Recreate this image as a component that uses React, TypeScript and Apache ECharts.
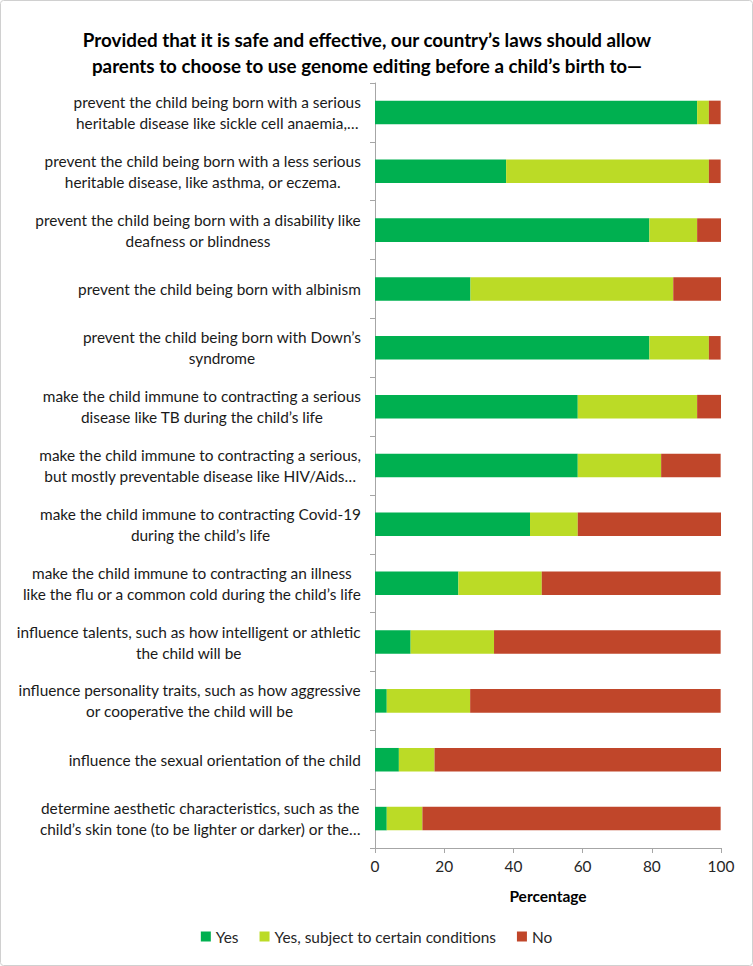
import React, { useEffect, useRef } from "react";
import * as echarts from "echarts";

const categories = [
  "prevent the child being born with a serious\nheritable disease like sickle cell anaemia,…",
  "prevent the child being born with a less serious\nheritable disease, like asthma, or eczema.",
  "prevent the child being born with a disability like\ndeafness or blindness",
  "prevent the child being born with albinism",
  "prevent the child being born with Down’s\nsyndrome",
  "make the child immune to contracting a serious\ndisease like TB during the child’s life",
  "make the child immune to contracting a serious,\nbut mostly preventable disease like HIV/Aids…",
  "make the child immune to contracting Covid-19\nduring the child’s life",
  "make the child immune to contracting an illness\nlike the flu or a common cold during the child’s life",
  "influence talents, such as how intelligent or athletic\nthe child will be",
  "influence personality traits, such as how aggressive\nor cooperative the child will be",
  "influence the sexual orientation of the child",
  "determine aesthetic characteristics, such as the\nchild’s skin tone (to be lighter or darker) or the…",
];

const yesValues = [93.1, 37.9, 79.3, 27.6, 79.3, 58.6, 58.6, 44.8, 24.1, 10.3, 3.4, 6.9, 3.4];
const conditionalValues = [3.4, 58.6, 13.8, 58.6, 17.2, 34.5, 24.1, 13.8, 24.1, 24.1, 24.1, 10.3, 10.3];
const noValues = [3.4, 3.4, 6.9, 13.8, 3.4, 6.9, 17.2, 41.4, 51.7, 65.5, 72.4, 82.8, 86.2];

const seriesNames = ["Yes", "Yes, subject to certain conditions", "No"];
const seriesColors = ["#00b050", "#bbdb26", "#c0462a"];

const titleLines = [
  "Provided that it is safe and effective, our country’s laws should allow",
  "parents to choose to use genome editing before a child’s birth to—",
];

const FONT = "Lato, 'Open Sans', sans-serif";

export default function App() {
  const ref = useRef<HTMLDivElement>(null);

  useEffect(() => {
    document.body.style.margin = "0";
    if (!ref.current) return;
    const chart = echarts.init(ref.current, undefined, { renderer: "svg" });
    const dataSets = [yesValues, conditionalValues, noValues];
    chart.setOption({
      animation: false,
      backgroundColor: "#ffffff",
      textStyle: { fontFamily: FONT },
      graphic: [
        {
          type: "rect",
          shape: { x: 0.5, y: 0.5, width: 752, height: 965, r: 3 },
          style: { fill: "none", stroke: "#d0d0d0", lineWidth: 1 },
        },
        {
          type: "text",
          x: 367,
          y: 26,
          style: {
            text: titleLines.join("\n"),
            fontFamily: FONT,
            fontSize: 18.8,
            fontWeight: "bold",
            lineHeight: 26,
            fill: "#000000",
            textAlign: "center",
          },
        },
      ],
      legend: {
        bottom: 17,
        left: "center",
        itemWidth: 10,
        itemHeight: 10,
        itemGap: 21,
        icon: "rect",
        textStyle: { fontSize: 15.4, color: "#262626", fontFamily: FONT },
        data: seriesNames,
      },
      grid: { left: 375, right: 32, top: 83, bottom: 118, containLabel: false },
      xAxis: {
        type: "value",
        min: 0,
        max: 100,
        interval: 20,
        name: "Percentage",
        nameLocation: "middle",
        nameGap: 40,
        nameTextStyle: { fontSize: 15.5, fontWeight: "bold", color: "#000", fontFamily: FONT },
        axisLine: { show: true, lineStyle: { color: "#a6a6a6" } },
        axisTick: { show: true, length: 5, lineStyle: { color: "#a6a6a6" } },
        axisLabel: { fontSize: 15.4, color: "#262626", margin: 10, fontFamily: FONT },
        splitLine: { show: false },
      },
      yAxis: {
        type: "category",
        inverse: true,
        data: categories,
        axisLine: { show: true, lineStyle: { color: "#a6a6a6" } },
        axisTick: { show: true, length: 5, alignWithLabel: false, lineStyle: { color: "#a6a6a6" } },
        axisLabel: {
          align: "right",
          margin: 14,
          formatter: (v: string) =>
            v
              .split("\n")
              .map((l) => `{c|${l}}`)
              .join("\n"),
          rich: {
            c: {
              align: "center",
              fontSize: 15.4,
              lineHeight: 21,
              color: "#1a1a1a",
              fontFamily: FONT,
            },
          },
        },
      },
      series: dataSets.map((d, i) => ({
        name: seriesNames[i],
        type: "bar",
        stack: "total",
        barWidth: "40%",
        itemStyle: { color: seriesColors[i] },
        data: d,
      })),
    });
    return () => chart.dispose();
  }, []);

  return <div ref={ref} style={{ width: 753, height: 966 }} />;
}
